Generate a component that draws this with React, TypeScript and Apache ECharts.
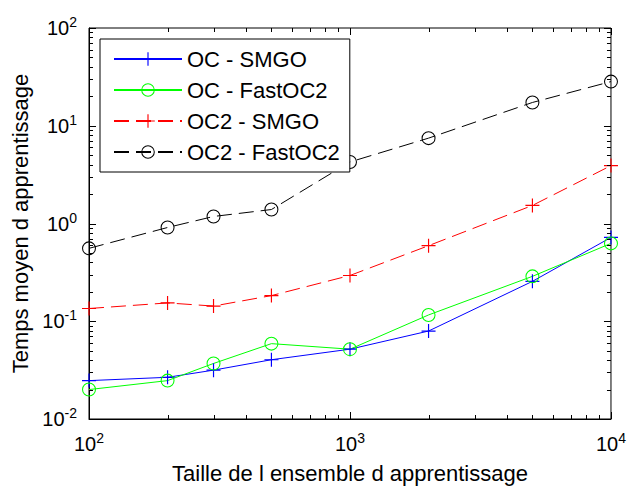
import React, { useEffect, useRef } from 'react';
import * as echarts from 'echarts';

const sizes = [100, 200, 300, 500, 1000, 2000, 5000, 10000];
const ocSmgo = [0.0247, 0.0267, 0.0316, 0.0404, 0.0518, 0.0794, 0.256, 0.72];
const ocFastOc2 = [0.02, 0.0247, 0.037, 0.059, 0.0518, 0.116, 0.288, 0.626];
const oc2Smgo = [0.135, 0.154, 0.143, 0.183, 0.294, 0.593, 1.53, 3.91];
const oc2FastOc2 = [0.557, 0.91, 1.18, 1.39, 4.26, 7.47, 17.3, 28.3];

const seriesNames = ['OC - SMGO', 'OC - FastOC2', 'OC2 - SMGO', 'OC2 - FastOC2'];

const xMajorTicks = [100, 1000, 10000];
const yMajorTicks = [0.01, 0.1, 1, 10, 100];
const minorMultipliers = [2, 3, 4, 5, 6, 7, 8, 9];
const xDecades = [100, 1000];
const yDecades = [0.01, 0.1, 1, 10];

const FONT = '"Liberation Sans", Arial, Helvetica, sans-serif';
const PLUS = 'path://M0,5.5H12V6.5H0Z M5.5,0H6.5V12H5.5Z';
const RING = 'path://M6,0A6,6 0 1,1 6,12A6,6 0 1,1 6,0Z M6,0.9A5.1,5.1 0 1,0 6,11.1A5.1,5.1 0 1,0 6,0.9Z';

export default function App() {
  const ref = useRef<HTMLDivElement>(null);
  useEffect(() => {
    document.body.style.margin = '0';
    const chart = echarts.init(ref.current!, null, { renderer: 'svg' });
    const xMinor: number[] = [];
    xDecades.forEach((d) => minorMultipliers.forEach((m) => xMinor.push(+(d * m).toPrecision(6))));
    const yMinor: number[] = [];
    yDecades.forEach((d) => minorMultipliers.forEach((m) => yMinor.push(+(d * m).toPrecision(6))));
    const tickData = [
      ...xMajorTicks.map((v) => [v, 1, 0, 1]),
      ...xMinor.map((v) => [v, 1, 0, 0]),
      ...yMajorTicks.map((v) => [100, v, 1, 1]),
      ...yMinor.map((v) => [100, v, 1, 0]),
    ];
    const fmt = (v: number) => `{b|10}{s|${Math.round(Math.log10(v))}}`;
    const rich = {
      b: { fontSize: 20, fontFamily: FONT, color: '#000' },
      s: { fontSize: 14, fontFamily: FONT, color: '#000', padding: [0, 0, 12, 0] },
    };
    const mk = (name: string, data: number[], color: string, dashed: boolean, symbol: string) => ({
      name,
      type: 'line',
      data: sizes.map((x, i) => [x, data[i]]),
      symbol,
      symbolSize: 14,
      itemStyle: { color },
      lineStyle: { color, width: 1, type: dashed ? [15, 7] : 'solid' },
      z: 3,
    });
    chart.setOption({
      animation: false,
      backgroundColor: '#fff',
      grid: { left: 89, right: 17, top: 28, bottom: 67, show: true, borderColor: '#000', borderWidth: 1, backgroundColor: '#fff' },
      legend: {
        data: seriesNames,
        orient: 'vertical',
        left: 100,
        top: 39,
        padding: [9, 10, 9, 13],
        itemGap: 9,
        itemWidth: 68,
        itemHeight: 17,
        backgroundColor: '#fff',
        borderColor: '#000',
        borderWidth: 1,
        borderRadius: 0,
        textStyle: { fontSize: 22, fontFamily: FONT, color: '#000' },
      },
      xAxis: {
        type: 'log',
        logBase: 10,
        min: 100,
        max: 10000,
        name: 'Taille de l ensemble d apprentissage',
        nameLocation: 'middle',
        nameGap: 43,
        nameTextStyle: { fontSize: 22, fontFamily: FONT, color: '#000' },
        axisLine: { show: true, lineStyle: { color: '#000', width: 1 } },
        axisTick: { show: false },
        splitLine: { show: false },
        axisLabel: { formatter: fmt, rich, margin: 12, showMinLabel: true, showMaxLabel: true },
      },
      yAxis: {
        type: 'log',
        logBase: 10,
        min: 0.01,
        max: 100,
        name: 'Temps moyen d apprentissage',
        nameLocation: 'middle',
        nameGap: 58,
        nameTextStyle: { fontSize: 22, fontFamily: FONT, color: '#000' },
        axisLine: { show: true, lineStyle: { color: '#000', width: 1 } },
        axisTick: { show: false },
        splitLine: { show: false },
        axisLabel: { formatter: fmt, rich, margin: 12, showMinLabel: true, showMaxLabel: true },
      },
      series: [
        mk(seriesNames[0], ocSmgo, '#0000ff', false, PLUS),
        mk(seriesNames[1], ocFastOc2, '#00ff00', false, RING),
        mk(seriesNames[2], oc2Smgo, '#ff0000', true, PLUS),
        mk(seriesNames[3], oc2FastOc2, '#000000', true, RING),
        {
          type: 'custom',
          name: 'ticks',
          silent: true,
          clip: false,
          z: 10,
          data: tickData,
          renderItem: (params: any, api: any) => {
            const cs = params.coordSys;
            const kind = api.value(2);
            const len = api.value(3) ? 7 : 4;
            const p = api.coord([api.value(0), api.value(1)]);
            const style = { stroke: '#000', lineWidth: 1 };
            if (kind === 0) {
              const x = Math.round(p[0]) + 0.5;
              const yb = cs.y + cs.height;
              return {
                type: 'group',
                children: [
                  { type: 'line', shape: { x1: x, y1: yb, x2: x, y2: yb - len }, style },
                  { type: 'line', shape: { x1: x, y1: cs.y, x2: x, y2: cs.y + len }, style },
                ],
              };
            }
            const y = Math.round(p[1]) + 0.5;
            const xr = cs.x + cs.width;
            return {
              type: 'group',
              children: [
                { type: 'line', shape: { x1: cs.x, y1: y, x2: cs.x + len, y2: y }, style },
                { type: 'line', shape: { x1: xr, y1: y, x2: xr - len, y2: y }, style },
              ],
            };
          },
        },
      ],
    });
    return () => chart.dispose();
  }, []);
  return <div ref={ref} style={{ position: 'fixed', left: 0, top: 0, width: 629, height: 489 }} />;
}
